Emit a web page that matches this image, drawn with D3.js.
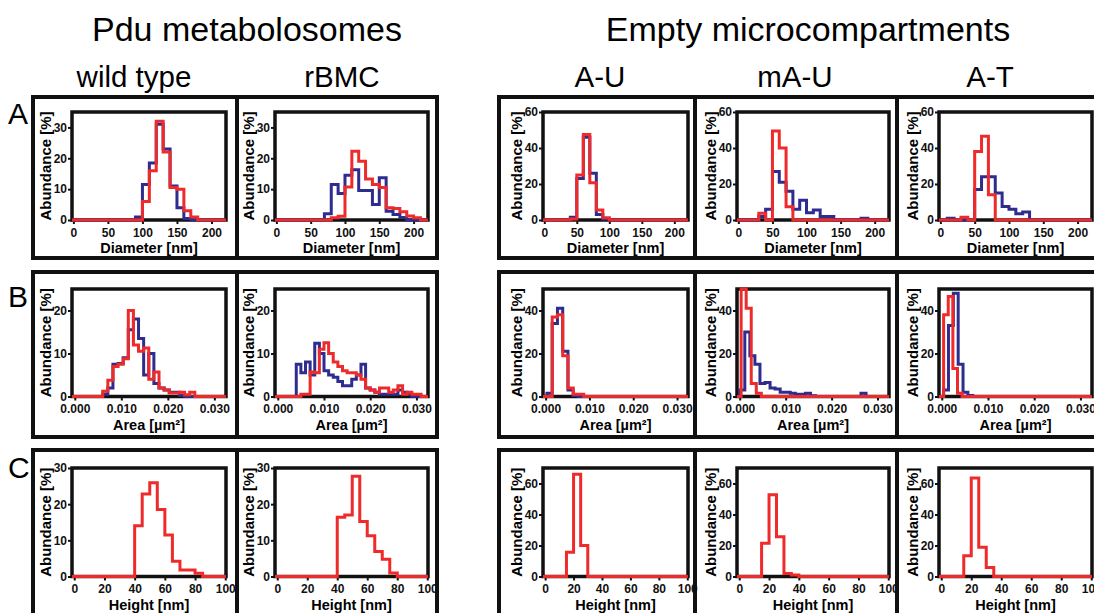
<!DOCTYPE html>
<html>
<head>
<meta charset="utf-8">
<script src="https://cdnjs.cloudflare.com/ajax/libs/d3/7.8.5/d3.min.js"></script>
<style>
  body { margin: 0; background: #fff; }
  svg { display: block; font-family: "Liberation Sans", Arial, sans-serif; }
</style>
</head>
<body>
<svg id="chart" width="1094" height="613"></svg>
<script>
// Size distributions of metabolosomes vs. empty shells (blue / red = two preparations)

const groupTitles = ['Pdu metabolosomes', 'Empty microcompartments'];
const columns = ['wild type', 'rBMC', 'A-U', 'mA-U', 'A-T'];
const rowLetters = ['A', 'B', 'C'];

const diamTicks = [0, 50, 100, 150, 200];
const areaTicks = [0, 0.01, 0.02, 0.03];
const heightTicks = [0, 20, 40, 60, 80, 100];

// Row A - diameter, 10 nm bins
const diamWidth = 10;
const diamBlueStart = [90, 70, 40, 30, 10];
const diamRedStart = [100, 80, 40, 30, 30];
const diamBlue = [
  [1, 11.5, 18.5, 31, 23, 11, 4, 0.5],
  [2, 11.5, 8.6, 14.5, 16.3, 9.6, 9.6, 5, 13.7, 2.8, 1.8, 0.8],
  [1.5, 23, 46, 26, 3, 0.5],
  [2, 6, 27, 21, 16, 6, 11, 4, 5.5, 2, 2, 0, 0, 0, 0, 1],
  [1, 0, 0, 0, 17, 24, 24, 15, 7.5, 6, 3.5, 4.5]
];
const diamRed = [
  [6, 16, 32, 22, 10.5, 10, 3, 1],
  [0.7, 1.2, 10.7, 22.3, 19, 13.3, 11.5, 10.5, 4, 3.7, 2.7, 1.3, 0.7],
  [0.5, 25, 47.5, 20.7, 5.5, 1.3],
  [3.7, 0, 49.5, 40, 7.3],
  [1.5, 0, 38, 46.5, 14]
];

// Row B - area, [start, bin width] per panel
const areaBlueBins = [[0.006, 0.0011], [0.004, 0.001], [0.0003, 0.0012], [0, 0.0011], [0.0004, 0.00105]];
const areaRedBins = [[0.006, 0.0011], [0.004, 0.001], [0.0015, 0.0012], [0.0003, 0.0011], [0.0004, 0.001]];
const areaBlue = [
  [0.5, 2, 7.5, 7.7, 9, 15.5, 18, 13.5, 5, 10, 3, 2, 1.5, 1, 1, 0.3],
  [7.5, 5.5, 8, 5, 12.4, 10, 6, 5, 4.5, 3.5, 2.5, 2.5, 4, 5, 7.5, 2, 1.5, 1, 0.5, 0.5, 0.5, 0.5, 1.5, 1, 0.5],
  [1.5, 34, 41, 21, 3, 0.5],
  [3, 30, 19, 15, 6, 6.5, 4, 3.5, 2, 2, 1.5, 1, 1, 1.5, 0.3, 0, 0, 0, 0, 0, 0, 0, 0, 0, 1.5],
  [3, 33, 48, 15, 2, 0.5]
];
const areaRed = [
  [1.2, 3.8, 7, 7.5, 8.8, 20, 12, 10.5, 11.3, 4, 5.7, 2, 1.5, 0.8, 0.8, 1, 0.4, 1],
  [0, 0.5, 0.5, 5.7, 5.5, 11, 12.5, 10, 8, 7, 6, 5.5, 5.5, 5, 4, 2, 1.5, 1, 2, 2, 1, 1.5, 2.5, 0.5, 1, 0.5, 0.5],
  [37, 38, 19, 4, 1, 1],
  [50, 41, 6, 1.5],
  [38, 46.5, 13, 1.5]
];

// Row C - height (only one series), 5 nm bins
const heightWidth = 5;
const heightStart = [40, 40, 15, 15, 15];
const heightRed = [
  [14, 22.8, 25.9, 18.5, 11.5, 4.2, 1.8, 1.8, 0.9],
  [16.4, 17, 27.7, 15.2, 11.3, 6.9, 4.8, 1],
  [15.6, 66, 20],
  [21.4, 52.8, 25.7, 2, 1],
  [13.4, 63.6, 18.8, 5.8]
];

const blue = '#2e2c8e', red = '#ef2a2a';

// layout (px)
const colX = [[72, 226], [275, 428], [543, 688], [737, 889], [939, 1092]];
const rowY = [[112, 220], [289, 396.5], [468, 576.5]];

const rows = [
  { xDomain: [-2, 221], xTicks: diamTicks, fmt: d3.format('d'), label: 'Diameter [nm]',
    yPdu: [35, [0, 10, 20, 30]], yEmpty: [60, [0, 20, 40, 60]],
    series: c => [
      { s: diamBlueStart[c], w: diamWidth, v: diamBlue[c], color: blue },
      { s: diamRedStart[c], w: diamWidth, v: diamRed[c], color: red }] },
  { xDomain: [-0.0006, 0.0325], xTicks: areaTicks, fmt: d3.format('.3f'), label: 'Area [µm²]',
    yPdu: [25, [0, 10, 20]], yEmpty: [50, [0, 20, 40]],
    series: c => [
      { s: areaBlueBins[c][0], w: areaBlueBins[c][1], v: areaBlue[c], color: blue },
      { s: areaRedBins[c][0], w: areaRedBins[c][1], v: areaRed[c], color: red }] },
  { xDomain: [-1.5, 100.5], xTicks: heightTicks, fmt: d3.format('d'), label: 'Height [nm]',
    yPdu: [30, [0, 10, 20, 30]], yEmpty: [70, [0, 20, 40, 60]],
    series: c => [{ s: heightStart[c], w: heightWidth, v: heightRed[c], color: red }] }
];

const svg = d3.select('#chart');

// headings
svg.selectAll('text.title').data(groupTitles).join('text')
  .attr('x', (d, i) => [247, 808][i]).attr('y', 41)
  .attr('text-anchor', 'middle').attr('font-size', 34).text(d => d);
svg.selectAll('text.col').data(columns).join('text')
  .attr('x', (d, i) => [134, 342, 600, 795, 990][i]).attr('y', 87)
  .attr('text-anchor', 'middle').attr('font-size', 29.5).text(d => d);
svg.selectAll('text.row').data(rowLetters).join('text')
  .attr('x', 8).attr('y', (d, i) => [124, 307, 478][i])
  .attr('font-size', 30).text(d => d);

// outer panel boxes
const boxY = [[97, 258], [272, 437], [450, 630]];
const boxG = svg.append('g').attr('fill', 'none').attr('stroke', '#111').attr('stroke-width', 4);
boxY.forEach(([y0, y1]) => {
  boxG.append('rect').attr('x', 33).attr('y', y0).attr('width', 404).attr('height', y1 - y0);
  boxG.append('line').attr('x1', 237).attr('x2', 237).attr('y1', y0).attr('y2', y1);
  boxG.append('rect').attr('x', 499).attr('y', y0).attr('width', 620).attr('height', y1 - y0);
  [695, 897].forEach(x => boxG.append('line').attr('x1', x).attr('x2', x).attr('y1', y0).attr('y2', y1));
});

rows.forEach((row, r) => {
  const [y0, y1] = rowY[r];
  columns.forEach((col, c) => {
    const [x0, x1] = colX[c];
    const [yMax, yTicks] = c < 2 ? row.yPdu : row.yEmpty;
    const x = d3.scaleLinear().domain(row.xDomain).range([x0, x1]);
    const y = d3.scaleLinear().domain([0, yMax]).range([y1, y0]);
    const g = svg.append('g');

    g.append('g').attr('transform', `translate(0,${y1})`)
      .call(d3.axisBottom(x).tickValues(row.xTicks).tickFormat(row.fmt).tickSize(4).tickPadding(4))
      .call(a => a.select('.domain').remove())
      .call(a => a.selectAll('line').attr('stroke', '#111').attr('stroke-width', 2))
      .call(a => a.selectAll('text').attr('font-size', 12).attr('font-weight', 'bold').attr('fill', '#111'));
    g.append('g').attr('transform', `translate(${x0},0)`)
      .call(d3.axisLeft(y).tickValues(yTicks).tickSize(4).tickPadding(1))
      .call(a => a.select('.domain').remove())
      .call(a => a.selectAll('line').attr('stroke', '#111').attr('stroke-width', 2))
      .call(a => a.selectAll('text').attr('font-size', 12).attr('font-weight', 'bold').attr('fill', '#111'));

    g.append('rect').attr('x', x0).attr('y', y0).attr('width', x1 - x0).attr('height', y1 - y0)
      .attr('fill', 'none').attr('stroke', '#111').attr('stroke-width', 3.5);

    // step outlines, baseline under the bars left open
    const line = d3.line().x(d => x(d[0])).y(d => y(d[1]));
    row.series(c).forEach(sr => {
      const pts = [[row.xDomain[0], 0], [sr.s, 0]];
      sr.v.forEach((v, i) => pts.push([sr.s + i * sr.w, v], [sr.s + (i + 1) * sr.w, v]));
      const end = sr.s + sr.v.length * sr.w;
      pts.push([end, 0], [row.xDomain[1], 0]);
      g.append('path').datum(pts).attr('d', line)
        .attr('fill', 'none').attr('stroke', sr.color).attr('stroke-width', 3)
        .attr('stroke-linejoin', 'miter');
    });

    g.append('text').attr('transform', `translate(${x0 - 21},${(y0 + y1) / 2}) rotate(-90)`)
      .attr('text-anchor', 'middle').attr('font-size', 15).attr('font-weight', 'bold')
      .text('Abundance [%]');
    g.append('text').attr('x', (x0 + x1) / 2).attr('y', y1 + 33)
      .attr('text-anchor', 'middle').attr('font-size', 14.5).attr('font-weight', 'bold')
      .text(row.label);
  });
});
</script>
</body>
</html>
